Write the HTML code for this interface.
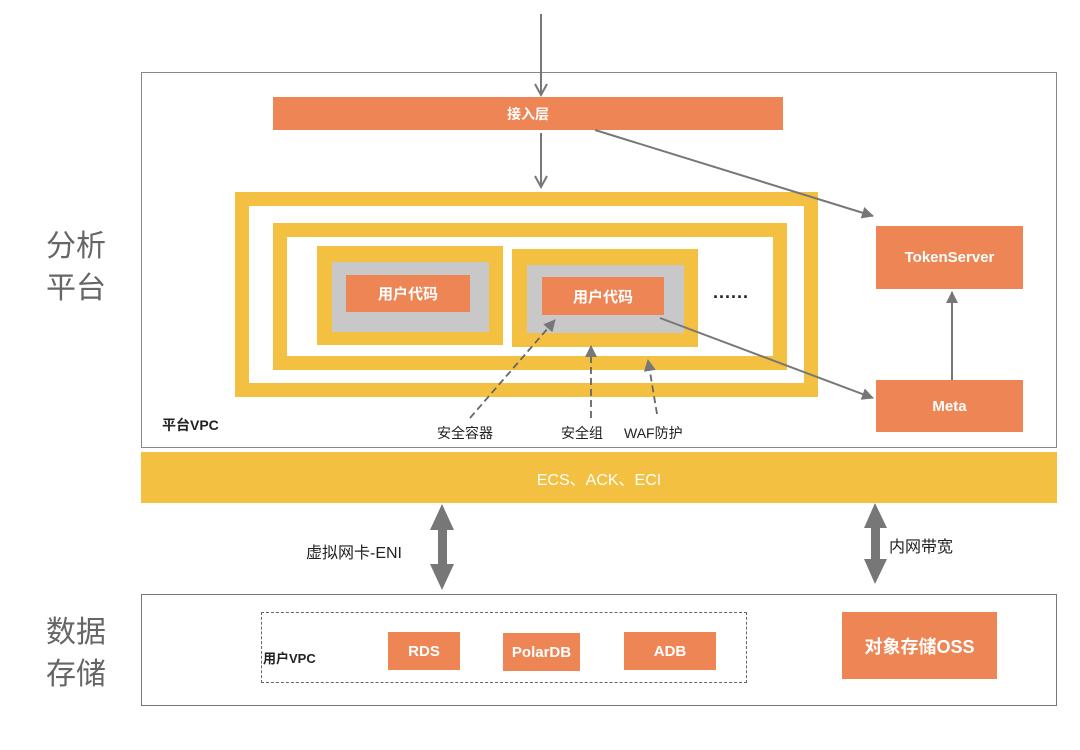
<!DOCTYPE html>
<html><head><meta charset="utf-8"><style>
body{margin:0;width:1080px;height:750px;background:#fff;position:relative;overflow:hidden;font-family:"Liberation Sans","Noto Sans CJK SC",sans-serif}
div{position:absolute;box-sizing:border-box}
.o{background:#ee8555;color:#fff;font-weight:bold;display:flex;align-items:center;justify-content:center;font-size:15px}
.y{border:14px solid #f4c042}
.t{color:#222;font-size:14px}
.big{color:#666;font-size:30px;line-height:42px}
</style></head><body>
<div class="big" style="left:46px;top:226px">分析<br>平台</div>
<div class="big" style="left:46px;top:612px">数据<br>存储</div>
<div style="left:141px;top:72px;width:916px;height:376px;border:1.5px solid #888"></div>
<div class="o" style="left:273px;top:97px;width:510px;height:33px;font-size:14px">接入层</div>
<div class="y" style="left:235px;top:192px;width:583px;height:205px"></div>
<div class="y" style="left:273px;top:223px;width:514px;height:147px"></div>
<div style="left:317px;top:246px;width:186px;height:99px;background:#f4c042"></div>
<div style="left:332px;top:262px;width:157px;height:70px;background:#c8c8c8"></div>
<div class="o" style="left:346px;top:275px;width:124px;height:37px">用户代码</div>
<div style="left:512px;top:249px;width:186px;height:98px;background:#f4c042"></div>
<div style="left:527px;top:265px;width:157px;height:68px;background:#c8c8c8"></div>
<div class="o" style="left:542px;top:277px;width:122px;height:38px">用户代码</div>
<div style="left:713px;top:282px;font-size:18px;font-weight:bold;color:#222;letter-spacing:1px">......</div>
<div class="o" style="left:876px;top:226px;width:147px;height:63px">TokenServer</div>
<div class="o" style="left:876px;top:380px;width:147px;height:52px">Meta</div>
<div class="t" style="left:162px;top:415px;font-weight:bold">平台VPC</div>
<div class="t" style="left:437px;top:423px">安全容器</div>
<div class="t" style="left:561px;top:423px">安全组</div>
<div class="t" style="left:624px;top:423px">WAF防护</div>
<div style="left:141px;top:452px;width:916px;height:51px;background:#f4c042;color:#fff;font-size:16px;display:flex;align-items:center;justify-content:center">ECS、ACK、ECI</div>
<div class="t" style="left:306px;top:539px;font-size:16px">虚拟网卡-ENI</div>
<div class="t" style="left:889px;top:533px;font-size:16px">内网带宽</div>
<div style="left:141px;top:594px;width:916px;height:112px;border:1.5px solid #777"></div>
<div style="left:261px;top:612px;width:486px;height:71px;border:1.5px dashed #666"></div>
<div class="t" style="left:263px;top:648px;font-weight:bold;font-size:13px">用户VPC</div>
<div class="o" style="left:388px;top:632px;width:72px;height:38px">RDS</div>
<div class="o" style="left:503px;top:633px;width:77px;height:38px">PolarDB</div>
<div class="o" style="left:624px;top:632px;width:92px;height:38px">ADB</div>
<div class="o" style="left:842px;top:612px;width:155px;height:67px;font-size:18px">对象存储OSS</div>
<svg style="position:absolute;left:0;top:0" width="1080" height="750">
<defs><marker id="a" markerWidth="12" markerHeight="12" refX="11" refY="6" orient="auto" markerUnits="userSpaceOnUse"><path d="M0,0L12,6L0,12z" fill="#777"/></marker>
<marker id="v" markerWidth="14" markerHeight="14" refX="11" refY="7" orient="auto" markerUnits="userSpaceOnUse"><path d="M1,1L12,7L1,13" fill="none" stroke="#777" stroke-width="2"/></marker></defs>
<g stroke="#777" stroke-width="2" fill="none">
<line x1="541" y1="14" x2="541" y2="94" marker-end="url(#v)"/>
<line x1="541" y1="133" x2="541" y2="186" marker-end="url(#v)"/>
<line x1="595" y1="130" x2="873" y2="216" marker-end="url(#a)"/>
<line x1="660" y1="318" x2="873" y2="398" marker-end="url(#a)"/>
<line x1="952" y1="380" x2="952" y2="292" marker-end="url(#a)"/>
<g stroke-dasharray="7,4" stroke-width="1.8" stroke="#666">
<line x1="470" y1="418" x2="555" y2="320" marker-end="url(#a)"/>
<line x1="591" y1="418" x2="591" y2="346" marker-end="url(#a)"/>
<line x1="657" y1="414" x2="648" y2="360" marker-end="url(#a)"/>
</g></g>
<g fill="#777">
<rect x="438" y="520" width="9" height="54"/><path d="M430,530L442,504L454,530z M430,564L442,590L454,564z"/>
<rect x="871" y="518" width="9" height="50"/><path d="M864,528L875,503L887,528z M864,559L875,584L887,559z"/>
</g></svg>
</body></html>
